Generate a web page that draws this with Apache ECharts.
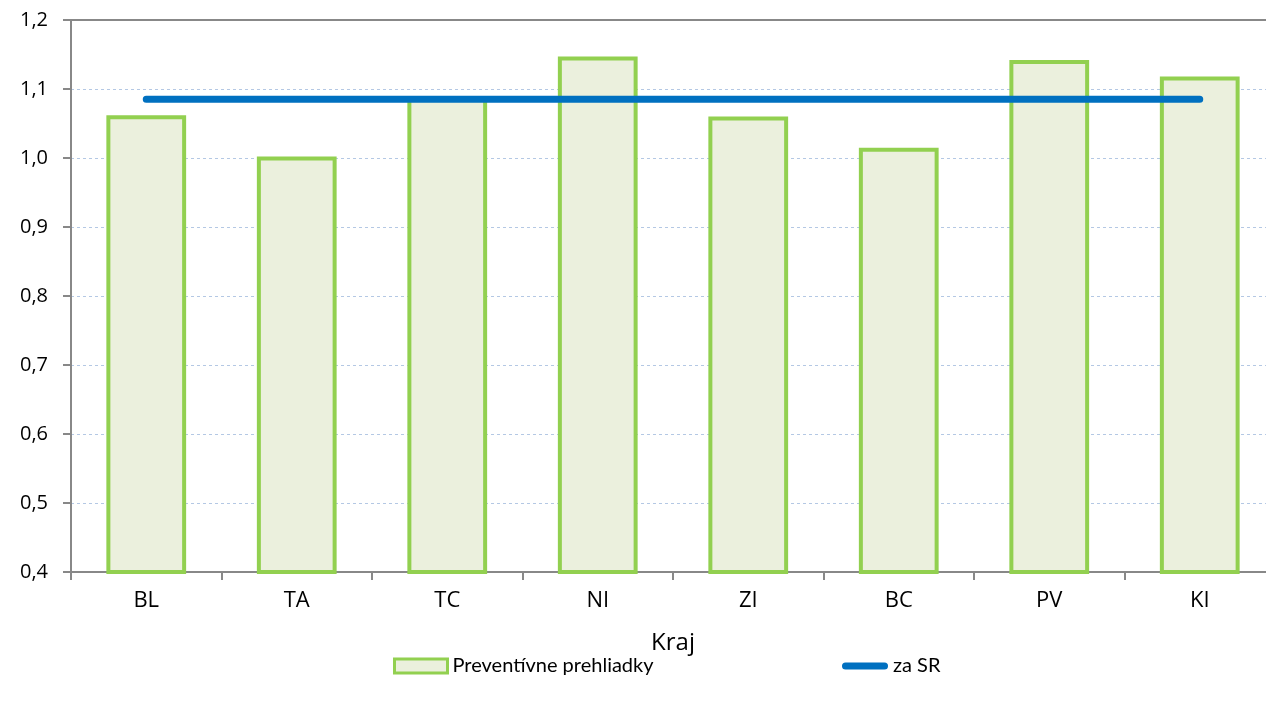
<!DOCTYPE html>
<html>
<head>
<meta charset="utf-8">
<script src="https://cdn.jsdelivr.net/npm/echarts@6/dist/echarts.min.js"></script>
<style>
    html, body { margin: 0; padding: 0; background: #fff; overflow: hidden; }
    /* the plot runs a little past the right edge of the picture, as in the source */
    #chart { width: 1280px; height: 705px; }
</style>
</head>
<body>
<div id="chart"></div>
<script>
// Chart data
var categories = ['BL', 'TA', 'TC', 'NI', 'ZI', 'BC', 'PV', 'KI'];
var prehliadky = [1.062, 1.002, 1.089, 1.147, 1.060, 1.015, 1.142, 1.118];
var zaSR = [1.085, 1.085, 1.085, 1.085, 1.085, 1.085, 1.085, 1.085];

var chart = echarts.init(document.getElementById('chart'));

var fmt = function (v) {
    return v.toFixed(1).replace('.', ',');
};

var legendFont = 'Lato, "Open Sans", sans-serif';

chart.setOption({
    animation: false,
    textStyle: {
        fontFamily: 'Open Sans, sans-serif'
    },

    // Setup grid
    grid: {
        left: 71,
        right: 5,
        top: 20,
        bottom: 133
    },

    // Legends (two, so each icon gets its own size)
    legend: [{
        left: 388,
        top: 651,
        itemWidth: 53,
        itemHeight: 14,
        itemGap: 4,
        icon: 'rect',
        itemStyle: {
            borderWidth: 3
        },
        textStyle: {
            color: '#000',
            fontSize: 20,
            fontFamily: legendFont
        },
        data: ['Preventívne prehliadky']
    }, {
        left: 837,
        top: 651,
        itemWidth: 46,
        itemHeight: 7,
        itemGap: 3,
        icon: 'path://M3.5,0 L42.5,0 A3.5,3.5 0 0 1 42.5,7 L3.5,7 A3.5,3.5 0 0 1 3.5,0 Z',
        textStyle: {
            color: '#000',
            fontSize: 20,
            fontFamily: legendFont
        },
        data: ['za SR']
    }],

    xAxis: [{
        type: 'category',
        data: categories,
        name: 'Kraj',
        nameLocation: 'middle',
        nameGap: 59,
        nameTextStyle: {
            color: '#000',
            fontSize: 24
        },
        axisLine: { lineStyle: { color: '#888', width: 2 } },
        axisTick: { show: true, length: 8, lineStyle: { color: '#888', width: 2 } },
        axisLabel: { color: '#000', fontSize: 22, margin: 18 }
    }, {
        type: 'category',
        data: categories,
        position: 'top',
        axisLine: { lineStyle: { color: '#888', width: 2 } },
        axisTick: { show: false },
        axisLabel: { show: false }
    }],

    yAxis: {
        type: 'value',
        min: 0.4,
        max: 1.2,
        interval: 0.1,
        axisLine: { show: true, lineStyle: { color: '#888', width: 2 } },
        axisTick: { show: true, length: 8, lineStyle: { color: '#888', width: 2 } },
        axisLabel: {
            color: '#000',
            fontSize: 20,
            margin: 23,
            formatter: fmt
        },
        splitLine: {
            lineStyle: { color: '#b4c8e4', type: [3, 3], width: 1 }
        }
    },

    series: [
        {
            name: 'Preventívne prehliadky',
            type: 'bar',
            barWidth: '53%',
            itemStyle: {
                color: '#ebf0dd',
                borderColor: '#92d050',
                borderWidth: 4
            },
            data: prehliadky
        },
        {
            name: 'za SR',
            type: 'line',
            symbol: 'none',
            lineStyle: {
                color: '#0070c0',
                width: 7,
                cap: 'round'
            },
            itemStyle: { color: '#0070c0' },
            data: zaSR
        }
    ]
});
</script>
</body>
</html>
